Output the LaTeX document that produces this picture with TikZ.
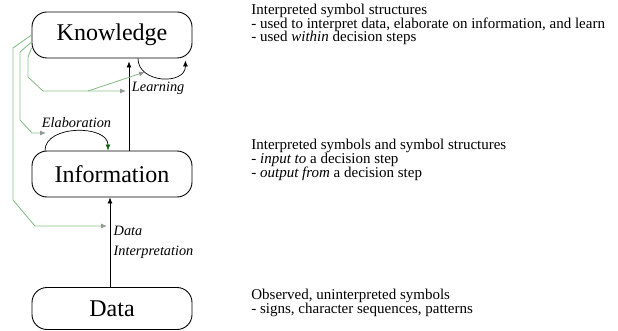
\documentclass[tikz,border=0pt]{standalone}
\usepackage{fontspec}
\setmainfont{Liberation Serif}
\usepackage{xcolor}
\usetikzlibrary{arrows.meta}
\definecolor{linkgreen}{RGB}{140,190,140}
\definecolor{tipgray}{RGB}{150,150,150}
\definecolor{loopgreen}{RGB}{20,100,20}
\tikzstyle{level box}=[
        draw,
        line width = 0.9pt,
        rounded corners = 15pt,
        minimum width = 160pt,
        minimum height = 46pt,
        inner sep = 0pt,
        font = \fontsize{24}{28}\selectfont
    ]
\tikzstyle{note}=[
        anchor = north west,
        align = left,
        inner sep = 0pt,
        font = \fontsize{15}{13.8}\selectfont
    ]
\tikzstyle{step label}=[font = \fontsize{14.3}{19.5}\selectfont\itshape, align = left]
\tikzstyle{feed}=[draw = linkgreen, line width = 0.9pt, -{Latex[color = tipgray, length = 6pt, width = 5pt]}]

\begin{document}
\begin{tikzpicture}[x = 1pt, y = -1pt, >={Latex[length = 6pt, width = 5pt]}, line width = 0.7pt]
        \useasboundingbox (0,0) rectangle (618,331);

        \node[level box] (know) at (112,35) {Knowledge};
        \node[level box] (info) at (112,174) {Information};
        \node[level box, minimum height = 42pt] (data) at (112,308.5) {Data};

        \node[note] (knownote) at (251,3.5) {Interpreted symbol structures\\- used to interpret data, elaborate on information, and learn\\- used \textit{within} decision steps};
        \node[note] (infonote) at (251,139) {Interpreted symbols and symbol structures\\- \textit{input to} a decision step\\- \textit{output from} a decision step};
        \node[note] (datanote) at (251,289) {Observed, uninterpreted symbols\\- signs, character sequences, patterns};

        \coordinate (dataIn) at (107,226);
        \coordinate (elabIn) at (46,133);
        \coordinate (learnIn) at (126,91);
        \coordinate (split) at (88,91);
        \coordinate (learnLoop) at (145,72);

        \draw[->] ([xshift = -2pt]data.north) -- ([xshift = -2pt]info.south)
            node [midway, right, step label] {Data\\Interpretation};
        \draw[->, shorten > = 3pt] ([xshift = 17pt]info.north) -- ([xshift = 17pt]know.south);
        \draw[->] ([xshift = 26pt]know.south) .. controls +(0,25) and +(0,25) .. ([shift = {(-7,2)}]know.south east)
            node [pos = 0.45, below, step label] {Learning};
        \draw[-{Latex[color = loopgreen, length = 6pt, width = 5pt]}] ([xshift = -67pt]info.north) .. controls +(0,-26) and +(0,-26) .. ([xshift = -4pt]info.north)
            node [midway, above, step label] {Elaboration};

        \draw[feed] (know.west) -- (13,48) -- (13,200) -- (35,226) -- (dataIn);
        \draw[feed] ([yshift = -7pt]know.west) -- (20,52) -- (20,120) -- (32,133) -- (elabIn);
        \draw[feed] ([yshift = -13pt]know.west) -- (28,57) -- (28,77) -- (43,91) -- (learnIn);
        \draw[feed] (split) -- (learnLoop);
    \end{tikzpicture}
\end{document}
